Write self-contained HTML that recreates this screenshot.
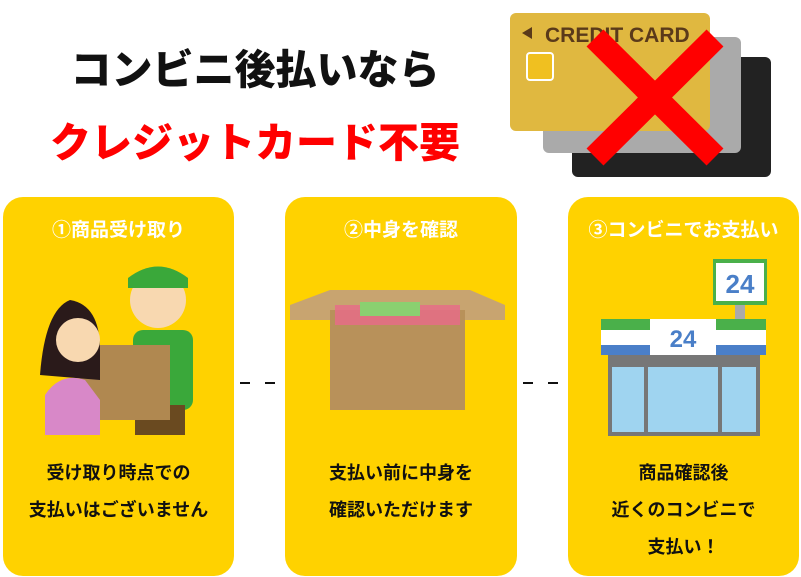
<!DOCTYPE html>
<html><head><meta charset="utf-8"><style>
body{margin:0;width:801px;height:577px;background:#fff;position:relative;overflow:hidden;font-family:"Liberation Sans","Noto Sans CJK JP",sans-serif;font-weight:bold}
.a{position:absolute}
.t{position:absolute;white-space:nowrap;text-align:center}
.p{position:absolute;top:197px;height:379px;background:#FFD200;border-radius:20px}
.h{position:absolute;top:18px;width:100%;text-align:center;color:#fff;font-size:19px;z-index:2}
.b{position:absolute;width:100%;text-align:center;color:#111;font-size:18px;line-height:37px}
.d{position:absolute;top:382px;width:10px;height:2px;background:#111}
</style></head><body>
<div class="t" style="left:25px;width:460px;top:36px;font-size:41px;color:#111;font-weight:900">コンビニ後払いなら</div>
<div class="t" style="left:25px;width:460px;top:109px;font-size:41px;color:#f00;font-weight:900">クレジットカード不要</div>
<svg class="a" style="left:500px;top:0" width="301" height="190">
<rect x="72" y="57" width="199" height="120" rx="6" fill="#222"/>
<rect x="43" y="37" width="198" height="116" rx="6" fill="#aaa"/>
<rect x="10" y="13" width="200" height="118" rx="6" fill="#e0b840"/>
<text x="45" y="42" font-size="21" fill="#5a3a1a" font-family="Liberation Sans" font-weight="bold">CREDIT CARD</text>
<polygon points="22,33 32,27 32,39" fill="#5a3a1a"/>
<rect x="27" y="53" width="26" height="27" rx="3" fill="#f0c020" stroke="#fff" stroke-width="2"/>
<line x1="95" y1="38" x2="215" y2="157" stroke="#f00" stroke-width="24"/>
<line x1="215" y1="38" x2="95" y2="157" stroke="#f00" stroke-width="24"/>
</svg>
<div class="p" style="left:3px;width:231px"><div class="h">①商品受け取り</div><div class="b" style="top:258px">受け取り時点での<br>支払いはございません</div></div>
<div class="p" style="left:285px;width:232px"><div class="h">②中身を確認</div><div class="b" style="top:258px">支払い前に中身を<br>確認いただけます</div></div>
<div class="p" style="left:568px;width:231px"><div class="h">③コンビニでお支払い</div><div class="b" style="top:258px">商品確認後<br>近くのコンビニで<br>支払い！</div></div>
<div class="d" style="left:240px"></div><div class="d" style="left:265px"></div>
<div class="d" style="left:523px"></div><div class="d" style="left:548px"></div>
<svg class="a" style="left:0;top:250px;z-index:1" width="801" height="200">
<rect x="133" y="80" width="60" height="80" rx="10" fill="#3aa83a"/>
<rect x="135" y="155" width="50" height="30" fill="#6a4a20"/>
<circle cx="158" cy="50" r="28" fill="#f8d8b0"/>
<path d="M128 28 Q158 5 188 28 L188 38 L128 38Z" fill="#3aa83a"/>
<rect x="80" y="95" width="90" height="75" fill="#b08850"/>
<path d="M40 125 Q45 60 70 50 Q100 55 100 100 L100 130Z" fill="#2a1a1a"/>
<circle cx="78" cy="90" r="22" fill="#f8d8b0"/>
<path d="M45 185 L45 145 Q60 122 85 130 L100 150 L100 185Z" fill="#d888c8"/>
<polygon points="290,55 330,40 470,40 505,55 505,70 290,70" fill="#c8a470"/>
<rect x="330" y="60" width="135" height="100" fill="#b8915a"/>
<rect x="335" y="55" width="125" height="20" fill="#e86a8a" opacity=".8"/>
<rect x="360" y="52" width="60" height="14" fill="#8ad070"/>
<rect x="713" y="9" width="54" height="46" fill="#4ab04a"/>
<rect x="716" y="13" width="48" height="38" fill="#fff"/>
<text x="740" y="43" font-size="26" fill="#4a7fc8" text-anchor="middle" font-family="Liberation Sans" font-weight="bold">24</text>
<rect x="735" y="55" width="10" height="15" fill="#aaa"/>
<rect x="608" y="104" width="152" height="82" fill="#777"/>
<rect x="612" y="117" width="32" height="65" fill="#9fd4f0"/>
<rect x="648" y="117" width="70" height="65" fill="#9fd4f0"/>
<rect x="722" y="117" width="34" height="65" fill="#9fd4f0"/>
<rect x="601" y="69" width="165" height="11" fill="#4ab04a"/>
<rect x="601" y="80" width="165" height="15" fill="#fff"/>
<rect x="601" y="95" width="165" height="10" fill="#4a7fc8"/>
<rect x="650" y="69" width="66" height="36" fill="#fff"/>
<text x="683" y="97" font-size="24" fill="#4a7fc8" text-anchor="middle" font-family="Liberation Sans" font-weight="bold">24</text>
</svg>
</body></html>
